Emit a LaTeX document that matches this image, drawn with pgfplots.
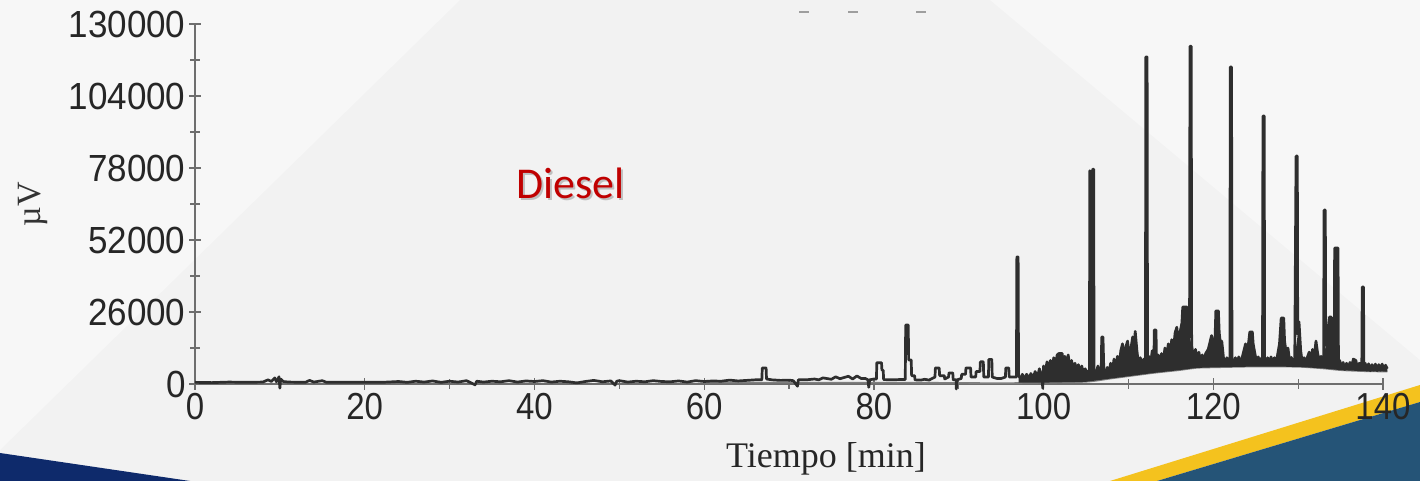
\documentclass[border=0pt]{standalone}
\usepackage{graphicx}
\usepackage{pgfplots}
\pgfplotsset{compat=1.18}
\usepackage{fontspec}
\setmainfont{Liberation Sans}
\newfontfamily\seriffont{Liberation Serif}
\newfontfamily\calibrifont{Carlito}
\definecolor{bg}{HTML}{F2F2F2}
\definecolor{bglight}{HTML}{F7F7F7}
\definecolor{navy}{HTML}{0E2A6B}
\definecolor{steel}{HTML}{255477}
\definecolor{gold}{HTML}{F4C21E}
\definecolor{trace}{HTML}{2E2E2E}
\definecolor{axisgray}{HTML}{6E6E6E}
\definecolor{dred}{HTML}{C00000}
\begin{document}
\begin{tikzpicture}[x=1pt,y=1pt]
\path[use as bounding box] (0,0) rectangle (1420,481);
\fill[bg] (0,0) rectangle (1420,481);
\fill[bglight] (0,481) -- (460,481) -- (0,31) -- cycle;
\fill[bglight] (990,481) -- (1420,481) -- (1420,121) -- cycle;
\fill[navy] (0,28) -- (190,0) -- (0,0) -- cycle;
\fill[gold] (1110,0) -- (1420,96) -- (1420,79) -- (1157,0) -- cycle;
\fill[steel] (1157,0) -- (1420,79) -- (1420,0) -- cycle;
\foreach \xx in {804,853,921} {\draw[color=black!38, line width=1.6pt] (\xx-5,469) -- (\xx+5,469);}
\begin{axis}[
  at={(195pt,97pt)}, anchor=south west,
  scale only axis, width=1188pt, height=360pt,
  xmin=0, xmax=140, ymin=0, ymax=130000,
  axis x line*=bottom, axis y line*=left,
  axis line style={draw=axisgray, line width=1.6pt, -},
  clip=false,
  xtick={0,20,...,140}, ytick={0,26000,...,130000},
  minor x tick num=1, minor y tick num=1,
  tick align=center, major tick length=12pt, minor tick length=10pt,
  tick style={draw=axisgray, line width=1.3pt},
  scaled y ticks=false, scaled x ticks=false,
  /pgf/number format/.cd, fixed, precision=0, 1000 sep={}, assume math mode=true,
  /pgfplots/.cd,
  yticklabel={\scalebox{1}[1.08]{\pgfmathprintnumber{\tick}}},
  xticklabel={\scalebox{1}[1.14]{\pgfmathprintnumber{\tick}}},
  yticklabel style={font=\fontsize{35}{35}\selectfont, text=black!85},
  xticklabel style={font=\fontsize{33}{33}\selectfont, text=black!85},
]
% lower edge of the noise band (drift baseline)
\addplot[color=black!50, line width=1.6pt, smooth] coordinates {
(60,500)(80,500)(90,400)(95,300)(100,500)(105,800)(108,2000)(110,2800)(113,4000)(116,5000)(118,5800)(120,6000)(125,6300)(130,6200)(133,5600)(135,5000)(138,4600)(140.5,4500)};
% noise band (upper edge = trace, lower edge = drift baseline)
\addplot[fill=trace, draw=none] coordinates {
(97.05,3000)(97.3,2000)(97.5,3500)(97.7,1800)(98,3500)(98.3,2000)(98.5,3800)(98.8,2200)(99,4500)(99.3,2600)(99.5,5500)(99.8,3000)(100,6500)(100.2,4000)(100.4,8000)(100.6,5000)(100.8,8500)(101.0,6000)(101.2,9500)(101.4,6500)(101.6,10500)(101.8,11000)(102.2,11000)(102.3,7000)(102.5,10000)(102.7,6500)(102.9,10500)(103.1,6000)(103.3,8500)(103.5,5000)(103.7,7500)(103.9,4500)(104.1,7000)(104.3,4000)(104.5,6500)(104.7,3800)(104.9,5500)(105.1,4000)(105.4,5000)
(105.45,77000)(105.65,76000)(105.7,74000)(105.8,77600)(105.9,77600)(105.95,5000)(106.2,3800)(106.4,6500)(106.6,4000)(106.8,6000)(107.1,5000)(107.3,3500)(107.5,6000)(107.7,4000)(107.9,7500)(108.1,4500)(108.3,9000)(108.5,5500)(108.7,10000)(108.9,6500)(109.1,12000)(109.3,14500)(109.5,9000)(109.7,13500)(109.9,15500)(110.1,9500)(110.3,13000)(110.5,17000)(110.7,15000)(110.8,19000)(111.0,12000)(111.2,7000)(111.4,9500)(111.6,6500)(111.8,9000)(112.0,7000)
(112.25,7500)(112.4,10000)(112.6,7000)(112.8,12000)(113.0,9000)(113.05,19500)(113.25,19500)(113.3,8000)(113.5,10500)(113.7,7500)(113.9,11000)(114.1,8000)(114.3,13000)(114.5,10000)(114.7,14500)(114.9,11000)(115.1,16000)(115.3,12500)(115.5,18500)(115.7,20500)(115.9,14000)(116.1,19000)(116.3,22000)(116.4,27800)(116.9,27800)(117.0,20000)(117.2,17000)
(117.45,14000)(117.7,9000)(117.9,12500)(118.1,8500)(118.3,11500)(118.5,8000)(118.7,10500)(118.9,8000)(119.1,11000)(119.4,12500)(119.6,15000)(119.8,17500)(120.0,13000)(120.2,16000)(120.3,26400)(120.6,26400)(120.7,18500)(120.9,13000)(121.0,15500)(121.2,9500)(121.4,7500)(121.6,9500)(121.8,7000)(121.95,9000)
(122.2,8500)(122.4,7000)(122.6,9500)(122.8,7000)(123.0,9800)(123.2,7200)(123.4,9500)(123.6,12000)(123.8,14500)(124.0,11000)(124.2,16000)(124.3,18800)(124.6,18800)(124.7,14500)(124.9,11000)(125.1,8000)(125.3,9800)(125.5,7000)(125.7,9500)(125.8,8500)
(126.05,8500)(126.2,7000)(126.4,9500)(126.6,7000)(126.8,9800)(127.0,7200)(127.2,9500)(127.4,7500)(127.6,11000)(127.8,14500)(128.0,23800)(128.3,23800)(128.4,15500)(128.6,11000)(128.8,13000)(129.0,8000)(129.2,9600)(129.4,7200)(129.6,9500)
(129.95,18000)(130.1,22500)(130.3,12000)(130.5,7500)(130.7,9500)(130.9,7000)(131.1,9800)(131.3,11500)(131.5,8500)(131.7,12500)(131.9,10000)(132.1,15500)(132.3,11000)(132.5,8000)(132.7,10000)(132.9,8000)(133.0,9000)
(133.25,14000)(133.5,18000)(133.7,24200)(133.9,24200)(134.0,14000)(134.25,14000)(134.3,49100)(134.7,49100)(134.75,7000)(134.9,8500)(135.1,5500)(135.3,7800)(135.5,5200)(135.7,7500)(135.9,5400)(136.1,7800)(136.3,6000)(136.5,9000)(136.8,8500)(137.0,5500)(137.2,7500)(137.5,6500)
(137.75,6000)(137.9,7500)(138.1,5000)(138.3,7300)(138.5,4800)(138.7,7000)(138.9,5000)(139.1,7200)(139.3,4800)(139.5,7000)(139.7,5000)(139.9,7200)(140.1,5000)(140.3,6800)(140.5,5500)
(140.5,4500)(138,4600)(135,5000)(133,5600)(130,6200)(125,6300)(120,6000)(118,5800)(116,5000)(113,4000)(110,2800)(108,2000)(105,800)(100,500)(97.05,500)};
% chromatogram trace
\addplot[color=trace, line width=2.7pt, line join=round] coordinates {
(0,600)(2,500)(4,700)(6,600)(8,700)(8.6,1500)(9,900)(9.4,2200)(9.6,800)(9.9,2600)(10.0,-1500)(10.1,1800)(10.4,900)(11,700)(13,600)(13.5,1300)(14,700)(15,1200)(15.5,600)(18,600)(22,600)
(24,900)(25,600)(26,1000)(27,700)(28,1100)(29,600)(30,1000)(31,700)(32,1200)(33,-300)(33.2,1000)(34,700)(35,1000)(36,800)(37,1200)(38,700)(39,1100)(40,900)(41,1200)(42,700)(43,1000)(44,800)(44.5,600)(45,400)(46,900)(47,1300)(48,800)(49,1100)(49.5,-400)(49.7,1000)(50,1200)(51,700)(52,1000)(53,800)(54,1200)(55,900)(56,800)(57,1100)(58,700)(59,1200)(60,900)
(61,1100)(62,1000)(63,1400)(64,1100)(65,1300)(66,1500)(66.8,1500)(66.85,5800)(67.3,5800)(67.35,1800)(68,1500)(69,1300)(70,1400)(70.5,1200)(71,-800)(71.1,1500)(72,1500)(73,1800)(73.5,1500)(74,2200)(75,1700)(75.5,2600)(76,1900)(77,2800)(77.5,1800)(78,2900)(78.5,2000)(79,2000)(79.3,1500)(79.4,-1200)(79.5,1500)
(80,1800)(80.3,1800)(80.35,7700)(80.9,7700)(80.95,5000)(81.1,5000)(81.15,1600)(82,1500)(83,1600)(83.7,1600)(83.75,21300)(84.05,21300)(84.1,8700)(84.4,8700)(84.45,3000)(84.8,3000)(84.85,1500)(85.5,1400)(86,1700)(86.5,1400)(87.2,2500)(87.25,5800)(87.7,5800)(87.75,3000)(88.3,3000)(88.35,1800)(88.8,2500)(88.85,4000)(89.3,4000)(89.35,1500)(89.7,1500)(89.72,-1800)(89.8,1500)(90.3,2000)(90.35,3500)(90.8,3500)(90.85,5800)(91.4,5800)(91.45,2500)(92.0,2500)(92.05,4500)(92.5,4500)(92.55,8000)(92.9,8000)(92.95,2500)(93.5,2500)(93.55,8900)(93.9,8900)(93.95,2500)(94.5,2000)(95,2000)(95.5,2500)(95.55,5800)(95.9,5800)(95.95,2500)(96.8,2500)(96.85,45900)(97.0,45900)
(97.05,3000)(97.3,2000)(97.5,3500)(97.7,1800)(98,3500)(98.3,2000)(98.5,3800)(98.8,2200)(99,4500)(99.3,2600)(99.5,5500)(99.8,3000)(99.9,-1500)(100,6500)(100.2,4000)(100.4,8000)(100.6,5000)(100.8,8500)(101.0,6000)(101.2,9500)(101.4,6500)(101.6,10500)(101.8,11000)(102.2,11000)(102.3,7000)(102.5,10000)(102.7,6500)(102.9,10500)(103.1,6000)(103.3,8500)(103.5,5000)(103.7,7500)(103.9,4500)(104.1,7000)(104.3,4000)(104.5,6500)(104.7,3800)(104.9,5500)(105.1,4000)(105.4,5000)
(105.45,77000)(105.65,76000)(105.7,74000)(105.8,77600)(105.9,77600)(105.95,5000)(106.2,3800)(106.4,6500)(106.6,4000)(106.8,6000)(106.85,17000)(107.0,17000)(107.1,5000)(107.3,3500)(107.5,6000)(107.7,4000)(107.9,7500)(108.1,4500)(108.3,9000)(108.5,5500)(108.7,10000)(108.9,6500)(109.1,12000)(109.3,14500)(109.5,9000)(109.7,13500)(109.9,15500)(110.1,9500)(110.3,13000)(110.5,17000)(110.7,15000)(110.8,19000)(111.0,12000)(111.2,7000)(111.4,9500)(111.6,6500)(111.8,9000)(112.0,7000)
(112.05,118100)(112.2,118100)(112.25,7500)(112.4,10000)(112.6,7000)(112.8,12000)(113.0,9000)(113.05,19500)(113.25,19500)(113.3,8000)(113.5,10500)(113.7,7500)(113.9,11000)(114.1,8000)(114.3,13000)(114.5,10000)(114.7,14500)(114.9,11000)(115.1,16000)(115.3,12500)(115.5,18500)(115.7,20500)(115.9,14000)(116.1,19000)(116.3,22000)(116.4,27800)(116.9,27800)(117.0,20000)(117.2,17000)
(117.25,122000)(117.4,122000)(117.45,14000)(117.7,9000)(117.9,12500)(118.1,8500)(118.3,11500)(118.5,8000)(118.7,10500)(118.9,8000)(119.1,11000)(119.4,12500)(119.6,15000)(119.8,17500)(120.0,13000)(120.2,16000)(120.3,26400)(120.6,26400)(120.7,18500)(120.9,13000)(121.0,15500)(121.2,9500)(121.4,7500)(121.6,9500)(121.8,7000)(121.95,9000)
(122.0,114500)(122.15,114500)(122.2,8500)(122.4,7000)(122.6,9500)(122.8,7000)(123.0,9800)(123.2,7200)(123.4,9500)(123.6,12000)(123.8,14500)(124.0,11000)(124.2,16000)(124.3,18800)(124.6,18800)(124.7,14500)(124.9,11000)(125.1,8000)(125.3,9800)(125.5,7000)(125.7,9500)(125.8,8500)
(125.85,96800)(126.0,96800)(126.05,8500)(126.2,7000)(126.4,9500)(126.6,7000)(126.8,9800)(127.0,7200)(127.2,9500)(127.4,7500)(127.6,11000)(127.8,14500)(128.0,23800)(128.3,23800)(128.4,15500)(128.6,11000)(128.8,13000)(129.0,8000)(129.2,9600)(129.4,7200)(129.6,9500)
(129.75,82300)(129.9,82300)(129.95,18000)(130.1,22500)(130.3,12000)(130.5,7500)(130.7,9500)(130.9,7000)(131.1,9800)(131.3,11500)(131.5,8500)(131.7,12500)(131.9,10000)(132.1,15500)(132.3,11000)(132.5,8000)(132.7,10000)(132.9,8000)(133.0,9000)
(133.05,62800)(133.2,62800)(133.25,14000)(133.5,18000)(133.7,24200)(133.9,24200)(134.0,14000)(134.25,14000)(134.3,49100)(134.7,49100)(134.75,7000)(134.9,8500)(135.1,5500)(135.3,7800)(135.5,5200)(135.7,7500)(135.9,5400)(136.1,7800)(136.3,6000)(136.5,9000)(136.8,8500)(137.0,5500)(137.2,7500)(137.5,6500)
(137.55,35000)(137.7,35000)(137.75,6000)(137.9,7500)(138.1,5000)(138.3,7300)(138.5,4800)(138.7,7000)(138.9,5000)(139.1,7200)(139.3,4800)(139.5,7000)(139.7,5000)(139.9,7200)(140.1,5000)(140.3,6800)(140.5,5500)};
\end{axis}
\node[anchor=base, font=\seriffont\fontsize{36}{36}\selectfont, text=black!85] at (826,13) {Tiempo [min]};
\node[rotate=90, font=\seriffont\fontsize{34}{34}\selectfont, text=black!80] at (33,277) {µV};
\node[anchor=base west, font=\calibrifont\fontsize{44}{44}\selectfont, text=black!25] at (514.5,280.5) {Diesel};
\node[anchor=base west, font=\calibrifont\fontsize{44}{44}\selectfont, text=dred] at (513,282) {Diesel};
\end{tikzpicture}
\end{document}
